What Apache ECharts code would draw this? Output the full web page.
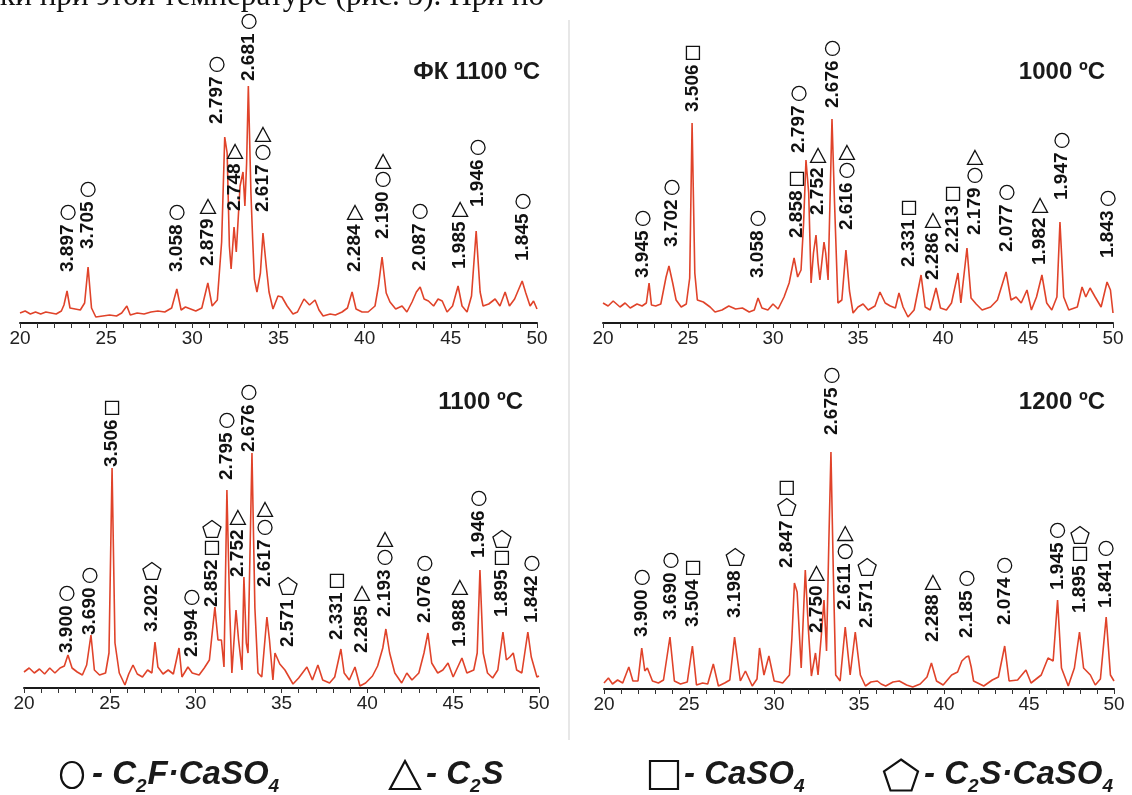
<!DOCTYPE html>
<html>
<head>
<meta charset="utf-8">
<title>XRD</title>
<script src="https://cdn.jsdelivr.net/npm/echarts@6/dist/echarts.min.js"></script>
<style>
  html, body { margin: 0; padding: 0; background: #fff; }
  #chart { width: 1132px; height: 795px; }
</style>
</head>
<body>
<div id="chart"></div>
<script>
// scans: [2theta, intensity]
var fk1100Scan = [
  [20.0,10],[20.3,12],[20.6,9],[20.9,11],[21.2,9],[21.5,11],[21.8,10],[22.1,9],[22.4,12],[22.55,18],[22.73,32],[22.9,15],
  [23.2,14],[23.5,13],[23.75,20],[23.95,56],[24.15,15],[24.4,6],[24.8,7],[25.2,8],[25.6,7],[25.9,10],[26.2,17],[26.4,8],
  [26.8,10],[27.2,9],[27.6,11],[28.0,12],[28.4,11],[28.8,15],[29.1,34],[29.35,13],[29.6,16],[29.9,14],[30.2,12],[30.55,15],
  [30.9,40],[31.15,17],[31.45,23],[31.7,81],[31.88,186],[32.02,170],[32.15,77],[32.25,54],[32.42,96],[32.55,71],[32.77,137],
  [32.94,151],[33.05,117],[33.15,160],[33.25,237],[33.4,130],[33.5,84],[33.6,44],[33.75,31],[33.95,50],[34.1,90],[34.3,55],
  [34.45,31],[34.68,14],[34.97,27],[35.2,26],[35.5,17],[35.84,9],[36.1,11],[36.48,24],[36.8,18],[37.12,23],[37.35,13],
  [37.59,7],[38.0,9],[38.3,8],[38.69,11],[39.0,15],[39.27,31],[39.5,14],[39.85,11],[40.2,11],[40.6,17],[40.8,37],[41.01,66],
  [41.25,30],[41.47,21],[41.8,14],[42.17,17],[42.45,11],[42.75,21],[43.0,31],[43.22,36],[43.45,24],[43.7,22],[44.0,17],
  [44.26,24],[44.5,22],[44.78,11],[45.1,17],[45.42,37],[45.65,17],[45.94,11],[46.2,27],[46.47,92],[46.7,31],[46.87,17],
  [47.2,19],[47.57,24],[47.85,17],[48.15,31],[48.4,17],[48.7,24],[49.14,42],[49.35,30],[49.6,17],[49.8,22],[50.0,14]
];
var t1000Scan = [
  [20.0,20],[20.3,17],[20.6,22],[21.0,16],[21.3,20],[21.6,15],[22.0,19],[22.3,17],[22.55,20],[22.71,40],[22.85,18],[23.1,17],
  [23.4,19],[23.71,46],[23.88,57],[24.1,40],[24.3,23],[24.6,16],[24.9,19],[25.1,45],[25.24,200],[25.4,50],[25.55,23],[25.9,21],
  [26.3,16],[26.59,11],[27.0,13],[27.4,17],[27.8,14],[28.2,15],[28.6,11],[28.9,13],[29.12,25],[29.35,15],[29.7,13],[30.0,19],
  [30.3,14],[30.65,26],[30.95,40],[31.24,65],[31.45,46],[31.65,53],[31.8,100],[31.94,163],[32.1,130],[32.24,40],[32.38,70],
  [32.53,88],[32.65,60],[32.76,43],[33.0,81],[33.1,70],[33.24,43],[33.35,120],[33.47,204],[33.62,120],[33.82,20],[34.05,23],
  [34.29,73],[34.5,32],[34.71,10],[35.0,16],[35.3,19],[35.6,13],[36.0,17],[36.29,31],[36.6,20],[36.9,17],[37.2,15],[37.41,30],
  [37.65,16],[37.94,6],[38.3,13],[38.71,48],[38.95,16],[39.25,13],[39.59,35],[39.85,15],[40.2,13],[40.5,20],[40.88,50],
  [41.05,20],[41.41,75],[41.65,25],[41.95,19],[42.3,13],[42.8,16],[43.2,23],[43.71,51],[44.0,23],[44.3,26],[44.6,20],
  [44.94,33],[45.2,13],[45.5,26],[45.82,48],[46.1,20],[46.4,13],[46.7,26],[46.88,101],[47.1,26],[47.4,13],[47.9,16],
  [48.18,36],[48.4,26],[48.65,35],[48.95,26],[49.3,16],[49.65,41],[49.85,33],[50.0,10]
];
var t1100Scan = [
  [20.0,16],[20.3,20],[20.6,15],[20.9,19],[21.2,14],[21.5,20],[21.8,15],[22.1,20],[22.35,22],[22.56,33],[22.8,20],[23.1,16],
  [23.4,13],[23.65,23],[23.9,53],[24.1,18],[24.4,13],[24.75,15],[24.95,35],[25.13,220],[25.3,45],[25.55,15],[25.88,3],
  [26.1,14],[26.35,23],[26.6,14],[26.9,11],[27.2,18],[27.45,15],[27.63,46],[27.8,21],[28.1,14],[28.4,18],[28.7,14],
  [29.03,40],[29.2,11],[29.55,21],[29.8,15],[30.2,13],[30.5,20],[30.8,28],[31.12,81],[31.3,48],[31.5,48],[31.65,21],
  [31.82,198],[31.98,80],[32.11,15],[32.35,78],[32.5,48],[32.7,18],[32.81,111],[32.95,45],[33.05,35],[33.28,235],[33.45,80],
  [33.63,15],[33.85,11],[34.15,71],[34.3,48],[34.5,8],[34.62,35],[34.9,24],[35.2,18],[35.67,4],[36.0,10],[36.48,21],[36.8,8],
  [37.12,23],[37.4,8],[37.8,5],[38.1,11],[38.46,39],[38.65,15],[38.95,8],[39.28,21],[39.57,2],[39.9,5],[40.3,12],[40.6,22],
  [40.9,40],[41.08,59],[41.3,35],[41.6,15],[42.0,5],[42.3,15],[42.6,8],[43.0,15],[43.3,35],[43.53,55],[43.75,25],[44.1,15],
  [44.4,18],[44.7,25],[45.0,11],[45.51,30],[45.8,15],[46.2,18],[46.4,35],[46.56,118],[46.75,35],[47.0,15],[47.3,10],
  [47.6,18],[47.9,56],[48.1,28],[48.3,31],[48.5,35],[48.7,18],[49.0,15],[49.35,56],[49.55,31],[49.88,11],[50.0,12]
];
var t1200Scan = [
  [20.0,6],[20.26,11],[20.5,5],[20.8,9],[21.1,6],[21.46,22],[21.7,8],[22.0,8],[22.22,41],[22.4,18],[22.55,21],[22.85,8],
  [23.2,6],[23.5,9],[23.88,52],[24.14,8],[24.5,5],[24.9,7],[25.2,43],[25.44,4],[25.8,6],[26.1,5],[26.43,25],[26.73,3],
  [27.1,6],[27.4,9],[27.68,52],[28.02,8],[28.32,18],[28.72,3],[29.0,10],[29.15,41],[29.41,14],[29.7,33],[30.01,8],[30.3,7],
  [30.51,6],[30.91,14],[31.05,50],[31.2,106],[31.36,97],[31.6,21],[31.84,119],[32.04,55],[32.2,13],[32.44,36],[32.59,14],
  [32.79,55],[32.94,89],[33.09,38],[33.23,150],[33.35,237],[33.49,116],[33.63,14],[33.89,8],[34.19,62],[34.48,14],[34.78,57],
  [35.08,14],[35.38,3],[35.7,7],[36.08,8],[36.3,5],[36.57,3],[37.0,7],[37.37,8],[37.8,4],[38.16,2],[38.6,5],[39.0,12],
  [39.26,26],[39.56,8],[39.95,4],[40.45,14],[40.8,17],[41.05,28],[41.15,30],[41.3,32],[41.45,33],[41.6,22],[41.74,8],
  [42.34,3],[42.84,9],[43.2,12],[43.57,43],[43.83,8],[44.33,9],[44.82,19],[45.12,6],[45.72,14],[46.12,31],[46.42,28],
  [46.68,89],[46.91,21],[47.31,3],[47.67,21],[47.97,57],[48.21,21],[48.61,14],[48.9,4],[49.2,10],[49.54,72],[49.79,14],[50.0,8]
];

// peak labels: [2theta, intensity at label foot, d-spacing, phases]
// o = C2F·CaSO4, t = C2S, s = CaSO4, p = C2S·CaSO4
var fk1100Peaks = [
  [22.79,51,'3.897','o'],[23.95,74,'3.705','o'],[29.11,51,'3.058','o'],[30.91,57,'2.879','t'],[31.43,199,'2.797','o'],
  [32.48,112,'2.748','t'],[33.29,242,'2.681','o'],[34.1,111,'2.617','ot'],[39.44,51,'2.284','t'],[41.07,84,'2.190','ot'],
  [43.22,52,'2.087','o'],[45.54,54,'1.985','t'],[46.58,116,'1.946','o'],[49.19,62,'1.845','o']
];
var t1000Peaks = [
  [22.35,45,'3.945','o'],[24.06,76,'3.702','o'],[25.29,211,'3.506','s'],[29.12,45,'3.058','o'],[31.41,85,'2.858','s'],
  [31.53,170,'2.797','o'],[32.65,108,'2.752','t'],[33.5,215,'2.676','o'],[34.35,93,'2.616','ot'],[38.0,56,'2.331','s'],
  [39.41,43,'2.286','t'],[40.59,70,'2.213','s'],[41.88,88,'2.179','ot'],[43.76,71,'2.077','o'],[45.71,58,'1.982','t'],
  [47.0,123,'1.947','o'],[49.71,65,'1.843','o']
];
var t1100Peaks = [
  [22.5,35,'3.900','o'],[23.84,53,'3.690','o'],[25.13,221,'3.506','s'],[27.45,56,'3.202','p'],[29.78,31,'2.994','o'],
  [30.95,81,'2.852','sp'],[31.82,208,'2.795','o'],[32.46,111,'2.752','t'],[33.1,236,'2.676','o'],[34.04,101,'2.617','ot'],
  [35.38,41,'2.571','p'],[38.23,48,'2.331','s'],[39.69,35,'2.285','t'],[41.03,71,'2.193','ot'],[43.35,65,'2.076','o'],
  [45.39,41,'1.988','t'],[46.5,130,'1.946','o'],[47.84,71,'1.895','sp'],[49.59,65,'1.842','o']
];
var t1200Peaks = [
  [22.25,52,'3.900','o'],[23.94,69,'3.690','o'],[25.24,62,'3.504','s'],[27.72,71,'3.198','p'],[30.75,121,'2.847','ps'],
  [32.5,56,'2.750','t'],[33.41,254,'2.675','o'],[34.19,79,'2.611','ot'],[35.48,61,'2.571','p'],[39.35,47,'2.288','t'],
  [41.35,51,'2.185','o'],[43.57,64,'2.074','o'],[46.68,99,'1.945','o'],[48.0,76,'1.895','sp'],[49.53,81,'1.841','o']
];

var panelTitles = ['ФК 1100 ºC', '1000 ºC', '1100 ºC', '1200 ºC'];
var legendPhases = [
  ['o', [['- C', 0], ['2', 1], ['F·CaSO', 0], ['4', 1]]],
  ['t', [['- C', 0], ['2', 1], ['S', 0]]],
  ['s', [['- CaSO', 0], ['4', 1]]],
  ['p', [['- C', 0], ['2', 1], ['S·CaSO', 0], ['4', 1]]]
];
var pageText = 'ки при этой температуре (рис. 5). При по-';

// layout
var grids = [
  {left: 20, right: 595, top: 23, bottom: 472},
  {left: 603, right: 19, top: 23, bottom: 472},
  {left: 24, right: 593, top: 388, bottom: 107},
  {left: 604, right: 18, top: 389, bottom: 106}
];
var titlePos = [{right: 592, top: 60}, {right: 27, top: 60}, {right: 609, top: 390}, {right: 27, top: 390}];
var scans = [fk1100Scan, t1000Scan, t1100Scan, t1200Scan];
var peaks = [fk1100Peaks, t1000Peaks, t1100Peaks, t1200Peaks];

var SANS = '"Liberation Sans", Arial, sans-serif';
var LABEL_FONT = 'bold 19px ' + SANS;
var measureCtx = document.createElement('canvas').getContext('2d');
function textWidth(str, font) {
  measureCtx.font = font;
  return measureCtx.measureText(str).width;
}

var SYM = {o: [14, 14], t: [15, 14], s: [13, 13], p: [18, 17]};
function shapeAt(kind, cx, cy, w, h, lw) {
  var style = {fill: 'none', stroke: '#111', lineWidth: lw};
  if (kind === 'o') return {type: 'ellipse', shape: {cx: cx, cy: cy, rx: w / 2, ry: h / 2}, style: style};
  if (kind === 's') return {type: 'rect', shape: {x: cx - w / 2, y: cy - h / 2, width: w, height: h}, style: style};
  if (kind === 't') return {type: 'polygon', shape: {points: [[cx, cy - h / 2], [cx + w / 2, cy + h / 2], [cx - w / 2, cy + h / 2]]}, style: style};
  var pts = [], top = cy - h / 2, sx = w / 1.902, sy = h / 1.809;
  for (var k = 0; k < 5; k++) {
    var a = k * 72 * Math.PI / 180;
    pts.push([cx + Math.sin(a) * sx, top + (1 - Math.cos(a)) * sy]);
  }
  return {type: 'polygon', shape: {points: pts}, style: style};
}

function peakRenderer(list) {
  return function (params, api) {
    var p = list[params.dataIndex];
    var pt = api.coord([p[0], p[1]]);
    var len = textWidth(p[2], LABEL_FONT);
    var children = [{
      type: 'text', x: pt[0], y: pt[1], rotation: Math.PI / 2,
      style: {text: p[2], font: LABEL_FONT, fill: '#111', align: 'left', verticalAlign: 'middle'}
    }];
    var y = pt[1] - len - 5;
    p[3].split('').forEach(function (s) {
      var sz = SYM[s];
      children.push(shapeAt(s, pt[0], y - sz[1] / 2, sz[0], sz[1], 1.3));
      y -= sz[1] + 4;
    });
    return {type: 'group', children: children};
  };
}

var xAxes = [], yAxes = [], series = [], titles = [];
grids.forEach(function (g, i) {
  xAxes.push({
    gridIndex: i, type: 'value', min: 20, max: 50, interval: 5,
    axisLine: {lineStyle: {color: '#1a1a1a', width: 2}},
    axisTick: {length: 5, lineStyle: {color: '#333', width: 1}},
    minorTick: {show: true, splitNumber: 5, length: 5, lineStyle: {color: '#333', width: 1}},
    splitLine: {show: false},
    axisLabel: {fontSize: 19, color: '#222', margin: 6, fontFamily: SANS}
  });
  yAxes.push({gridIndex: i, type: 'value', min: 0, max: 300, show: false});
  series.push({
    type: 'line', xAxisIndex: i, yAxisIndex: i, data: scans[i],
    showSymbol: false, silent: true,
    lineStyle: {color: '#e0432a', width: 1.6}
  });
  series.push({
    type: 'custom', xAxisIndex: i, yAxisIndex: i, silent: true, z: 5,
    data: peaks[i].map(function (p) { return [p[0], p[1]]; }),
    encode: {x: 0, y: 1},
    renderItem: peakRenderer(peaks[i])
  });
  titles.push({
    text: panelTitles[i], right: titlePos[i].right, top: titlePos[i].top, padding: 0,
    textStyle: {fontSize: 24, fontWeight: 'bold', color: '#1a1a1a', fontFamily: SANS}
  });
});

// legend row and page decorations
var graphics = [];
var LEG_FONT = 'italic bold 33px ' + SANS;
var LEG_SUB = 'italic bold 19px ' + SANS;
var legX = [[72, 92], [405, 426], [664, 684], [901, 924]];
var legSym = {o: [22, 26], t: [30, 28], s: [28, 28], p: [34, 31]};
legendPhases.forEach(function (lp, i) {
  graphics.push(shapeAt(lp[0], legX[i][0], 775, legSym[lp[0]][0], legSym[lp[0]][1], 2.2));
  var x = legX[i][1];
  lp[1].forEach(function (part) {
    var f = part[1] ? LEG_SUB : LEG_FONT;
    graphics.push({type: 'text', x: x, y: part[1] ? 787 : 775,
      style: {text: part[0], font: f, fill: '#1a1a1a', align: 'left', verticalAlign: 'middle'}});
    x += textWidth(part[0], f) + (part[1] ? 1 : 0);
  });
});
var pageFontSize = Math.round(26 * 555 / textWidth(pageText, '26px "Liberation Serif", serif') * 10) / 10;
graphics.push({type: 'text', x: 0, y: 12, style: {text: pageText, font: pageFontSize + 'px "Liberation Serif", serif',
  fill: '#111', align: 'left', verticalAlign: 'bottom'}});
graphics.push({type: 'line', shape: {x1: 569, y1: 20, x2: 569, y2: 740}, style: {stroke: '#cfcfcf', lineWidth: 1}});

var chart = echarts.init(document.getElementById('chart'));
chart.setOption({
  animation: false,
  backgroundColor: '#fff',
  title: titles,
  grid: grids,
  xAxis: xAxes,
  yAxis: yAxes,
  series: series,
  graphic: graphics
});
</script>
</body>
</html>
